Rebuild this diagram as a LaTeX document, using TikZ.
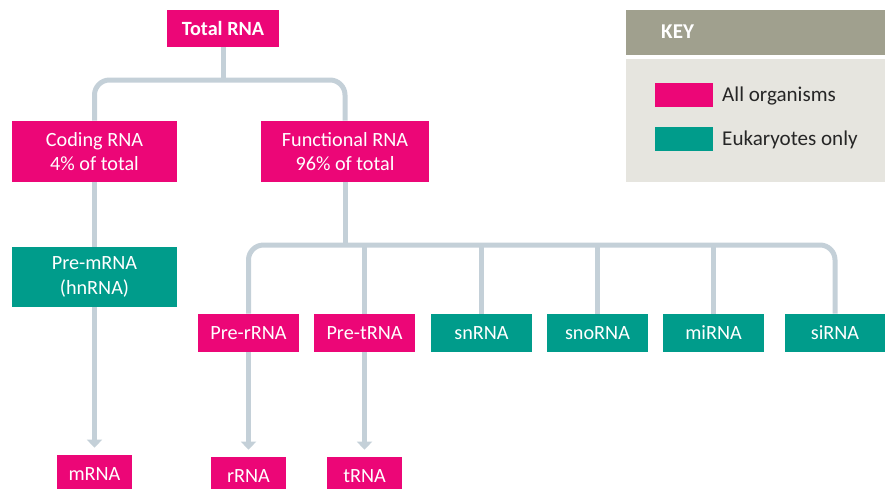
\documentclass[tikz,border=0pt]{standalone}
\usepackage{fontspec}
\setmainfont{Carlito}
\usetikzlibrary{arrows.meta}
\definecolor{rnapink}{HTML}{EC0677}
\definecolor{rnateal}{HTML}{009C8B}
\definecolor{linegrey}{HTML}{C4D0D8}
\definecolor{keyhead}{HTML}{A0A08E}
\definecolor{keybody}{HTML}{E6E5DF}
\begin{document}
\begin{tikzpicture}[
          x=0.02cm, y=-0.02cm,
          box/.style={
            minimum width=2.02cm, minimum height=0.76cm, inner sep=2pt,
            text=white, align=center, font=\fontsize{11.5}{14}\selectfont
          },
          allorg/.style={box, fill=rnapink},
          eukonly/.style={box, fill=rnateal},
          branch/.style={draw=linegrey, line width=0.1cm, rounded corners=0.3cm},
          feed/.style={branch, -{Triangle[width=0.3cm, length=0.16cm]}, shorten >=0.14cm},
          keytext/.style={anchor=west, text=black!85, font=\fontsize{12}{14}\selectfont},
        ]
          \useasboundingbox (0,0) rectangle (885,488);
          \def\rowy{333}

          % --- Key ---
          \fill[keyhead] (626,10) rectangle (885,55);
          \fill[keybody] (626,59) rectangle (885,182);
          \node[anchor=west, text=white, font=\bfseries\fontsize{12}{14}\selectfont] (keytitle) at (655,32) {KEY};
          \fill[rnapink] (655,83) rectangle (713,107);
          \fill[rnateal] (655,127) rectangle (713,151);
          \node[keytext] (keyall) at (716,96) {All organisms};
          \node[keytext] (keyeuk) at (716,140) {Eukaryotes only};

          % --- Top levels ---
          \node[allorg, minimum width=2.24cm, minimum height=0.74cm,
            font=\bfseries\fontsize{11.5}{14}\selectfont] (total) at (223,28.5) {Total RNA};
          \node[allorg, minimum width=3.3cm, minimum height=1.22cm] (coding) at (94.5,151.5) {Coding RNA\\4\% of total};
          \node[allorg, minimum width=3.36cm, minimum height=1.22cm] (func) at (345,151.5) {Functional RNA\\96\% of total};
          \node[eukonly, minimum width=3.3cm, minimum height=1.2cm] (premrna) at (94.5,277) {Pre-mRNA\\(hnRNA)};

          % --- Functional RNA row ---
          \foreach \x/\nm/\txt/\kind in {248.5/prer/Pre-rRNA/allorg, 364.5/pret/Pre-tRNA/allorg,
              481.5/snrna/snRNA/eukonly, 597.5/snorna/snoRNA/eukonly,
              713.5/mirna/miRNA/eukonly, 835/sirna/siRNA/eukonly} {
            \node[\kind] (\nm) at (\x,\rowy) {\txt};
          }

          % --- Mature RNAs ---
          \node[allorg, minimum width=1.5cm] (mrna) at (94.5,474) {mRNA};
          \node[allorg, minimum width=1.5cm] (rrna) at (248.5,476) {rRNA};
          \node[allorg, minimum width=1.5cm] (trna) at (364.5,476) {tRNA};

          % Branches
          \coordinate (jtop) at (223,80);
          \coordinate (jfun) at (345,245);
          \draw[branch] (total.south) -- (jtop);
          \draw[branch] (coding.north) |- (jtop) -| (func.north);
          \draw[branch] (coding.south) -- (premrna.north);
          \draw[branch] (func.south) -- (jfun);
          \draw[branch] (prer.north) |- (jfun) -| (sirna.north);
          \foreach \nm in {pret, snrna, snorna, mirna} {
            \draw[branch] (\nm.north) -- (\nm |- jfun);
          }

          % Arrows to mature forms
          \draw[feed] (premrna.south) -- (mrna.north);
          \draw[feed] (prer.south) -- (rrna.north);
          \draw[feed] (pret.south) -- (trna.north);
        \end{tikzpicture}
\end{document}
